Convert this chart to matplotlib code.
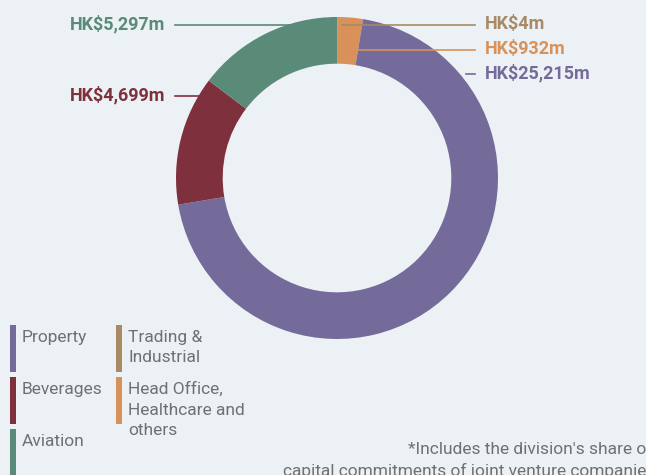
import matplotlib
matplotlib.use("Agg")
import matplotlib.pyplot as plt

# segment data, clockwise from 12 o'clock
divisions = ["Trading & Industrial", "Head Office, Healthcare and others",
             "Property", "Beverages", "Aviation"]
values = [4, 932, 25215, 4699, 5297]
value_labels = ["HK$4m", "HK$932m", "HK$25,215m", "HK$4,699m", "HK$5,297m"]
colors = ["#a88a64", "#d9915a", "#756b9a", "#7f303d", "#5a8a78"]

legend_names = ["Property", "Beverages", "Aviation",
                "Trading &\nIndustrial", "Head Office,\nHealthcare and\nothers"]
legend_colors = ["#756b9a", "#7f303d", "#5a8a78", "#a88a64", "#d9915a"]

bg = "#ecf1f5"
W, H = 646, 475
fig = plt.figure(figsize=(W / 100, H / 100), dpi=100)
fig.patch.set_facecolor(bg)

# donut
cx, cy, r = 337, 178, 161
ax = fig.add_axes([(cx - r) / W, (H - cy - r) / H, 2 * r / W, 2 * r / H])
ax.pie(values, colors=colors, startangle=90, counterclock=False, radius=1,
       wedgeprops=dict(width=0.29, linewidth=0))
ax.set_xlim(-1, 1)
ax.set_ylim(-1, 1)
ax.axis("off")

# overlay in pixel coords for labels, leader lines, legend
ov = fig.add_axes([0, 0, 1, 1], zorder=5)
ov.set_xlim(0, W)
ov.set_ylim(H, 0)
ov.axis("off")
ov.patch.set_alpha(0)

lab_font = dict(family="Roboto", fontsize=13, fontweight="bold")
# (label x, y, ha, line x0, x1)
label_layout = {
    "HK$4m": (485, 24, "left", 342, 475),
    "HK$932m": (485, 49, "left", 342, 475),
    "HK$25,215m": (485, 73, "left", 466, 475),
    "HK$4,699m": (165, 95, "right", 175, 216),
    "HK$5,297m": (165, 24, "right", 175, 330),
}
for lab, col in zip(value_labels, colors):
    x, y, ha, x0, x1 = label_layout[lab]
    ov.text(x, y, lab, ha=ha, va="center", color=col, **lab_font)
    ov.plot([x0, x1], [y + 1, y + 1], color=col, lw=1.2)

# legend
leg_font = dict(family="Roboto", fontsize=12.5, fontweight="normal", color="#707070")
slots = [(10, 325), (10, 377), (10, 429), (116, 325), (116, 377)]
for (x, y), name, col in zip(slots, legend_names, legend_colors):
    ov.add_patch(plt.Rectangle((x, y), 6, 47, color=col, lw=0))
    ov.text(x + 12, y + 5, name, ha="left", va="top", linespacing=1.45, **leg_font)

ov.text(408, 449, "*Includes the division's share of", ha="left", va="center", **leg_font)
ov.text(283, 471, "capital commitments of joint venture companies", ha="left",
        va="center", **leg_font)

fig.savefig("out.png", dpi=100, facecolor=bg)
